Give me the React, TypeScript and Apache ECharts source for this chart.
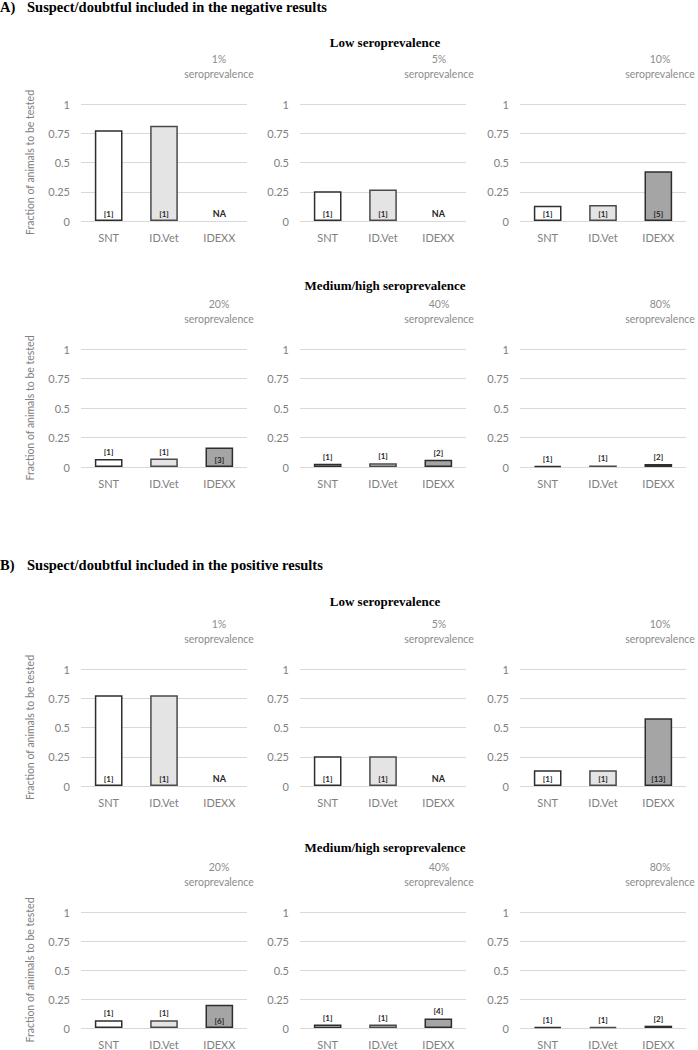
import React, { useEffect, useRef } from "react";
import * as echarts from "echarts";

// ---- data ----
const categories = ["SNT", "ID.Vet", "IDEXX"];
const prevalenceLabels = ["1%", "5%", "10%", "20%", "40%", "80%"];
const sectionLetters = ["A)", "B)"];
const sectionTitles = [
  "Suspect/doubtful included in the negative results",
  "Suspect/doubtful included in the positive results",
];
const groupTitles = ["Low seroprevalence", "Medium/high seroprevalence"];
const yAxisTitle = "Fraction of animals to be tested";
const yTicks = [0, 0.25, 0.5, 0.75, 1];

// A) suspect/doubtful counted as negative
const negSNT = [0.775, 0.255, 0.13, 0.068, 0.027, 0.01];
const negIDVet = [0.815, 0.27, 0.137, 0.072, 0.032, 0.013];
const negIDEXX = [null, null, 0.425, 0.165, 0.062, 0.026];
const negCountSNT = [1, 1, 1, 1, 1, 1];
const negCountIDVet = [1, 1, 1, 1, 1, 1];
const negCountIDEXX = [null, null, 5, 3, 2, 2];

// B) suspect/doubtful counted as positive
const posSNT = [0.775, 0.255, 0.135, 0.066, 0.03, 0.01];
const posIDVet = [0.775, 0.255, 0.135, 0.066, 0.03, 0.01];
const posIDEXX = [null, null, 0.58, 0.2, 0.082, 0.02];
const posCountSNT = [1, 1, 1, 1, 1, 1];
const posCountIDVet = [1, 1, 1, 1, 1, 1];
const posCountIDEXX = [null, null, 13, 6, 4, 2];

// ---- styles / layout ----
const barFill = ["#ffffff", "#e4e4e4", "#a5a5a5"];
const barBorder = ["#2e2e2e", "#4a4a4a", "#2e2e2e"];
const colLeft = [81, 300, 520];
const colTitleX = [219, 439, 660];
const gridW = 166;
const rowTop = [104, 349, 669, 912];
const rowH = [117, 118, 117, 118];
const groupTitleY = [42, 285, 601, 847];
const sectionTitleY = [7, 565];
const SANS = "Lato, 'Open Sans', sans-serif";
const SERIF = "'Liberation Serif', 'DejaVu Serif', serif";

export default function App() {
  const ref = useRef<HTMLDivElement>(null);

  useEffect(() => {
    if (!ref.current) return;
    const chart = echarts.init(ref.current, null, { renderer: "svg" });

    const sections = [
      { vals: [negSNT, negIDVet, negIDEXX], counts: [negCountSNT, negCountIDVet, negCountIDEXX] },
      { vals: [posSNT, posIDVet, posIDEXX], counts: [posCountSNT, posCountIDVet, posCountIDEXX] },
    ];

    const grids: any[] = [];
    const xAxes: any[] = [];
    const yAxes: any[] = [];
    const series: any[] = [];
    const graphics: any[] = [];

    sections.forEach((sec, s) => {
      graphics.push({
        type: "text",
        x: 0,
        y: sectionTitleY[s],
        style: { text: sectionLetters[s], font: `bold 14.5px ${SERIF}`, fill: "#000", verticalAlign: "middle" },
      });
      graphics.push({
        type: "text",
        x: 27,
        y: sectionTitleY[s],
        style: { text: sectionTitles[s], font: `bold 14.5px ${SERIF}`, fill: "#000", verticalAlign: "middle" },
      });
      for (let j = 0; j < 6; j++) {
        const r = s * 2 + Math.floor(j / 3);
        const c = j % 3;
        const idx = grids.length;
        if (c === 0) {
          graphics.push({
            type: "text",
            x: 385,
            y: groupTitleY[r],
            style: {
              text: groupTitles[Math.floor(j / 3)],
              font: `bold 13px ${SERIF}`,
              fill: "#000",
              align: "center",
              verticalAlign: "middle",
            },
          });
        }
        graphics.push({
          type: "text",
          x: colTitleX[c],
          y: rowTop[r] - 38,
          style: {
            text: `${prevalenceLabels[j]}\nseroprevalence`,
            font: `10.5px ${SANS}`,
            fill: "#8c8c8c",
            align: "center",
            verticalAlign: "middle",
            lineHeight: 15,
          },
        });
        grids.push({ left: colLeft[c], top: rowTop[r], width: gridW, height: rowH[r] });
        xAxes.push({
          type: "category",
          gridIndex: idx,
          data: categories,
          axisLine: { show: false },
          axisTick: { show: false },
          axisLabel: { color: "#808080", fontSize: 11, fontFamily: SANS, margin: 11 },
        });
        yAxes.push({
          type: "value",
          gridIndex: idx,
          min: yTicks[0],
          max: yTicks[yTicks.length - 1],
          interval: yTicks[1] - yTicks[0],
          axisLine: { show: false },
          axisTick: { show: false },
          axisLabel: { color: "#808080", fontSize: 11, fontFamily: SANS, margin: 11 },
          splitLine: { lineStyle: { color: "#d9d9d9", width: 1 } },
          name: c === 0 ? yAxisTitle : "",
          nameLocation: "middle",
          nameRotate: 90,
          nameGap: 46,
          nameTextStyle: { color: "#808080", fontSize: 10.5, fontFamily: SANS },
        });
        const data = categories.map((_, k) => {
          const v = sec.vals[k][j];
          const n = sec.counts[k][j];
          if (v == null) {
            return {
              value: 0,
              itemStyle: { color: "transparent", borderWidth: 0 },
              label: {
                show: true,
                formatter: "NA",
                position: "insideBottom",
                distance: 3,
                fontSize: 9,
              },
            };
          }
          const inside = v >= 0.1;
          return {
            value: v,
            itemStyle: { color: barFill[k], borderColor: barBorder[k], borderWidth: 1.5 },
            label: {
              show: true,
              formatter: n == null ? "NA" : `[${n}]`,
              position: inside ? "insideBottom" : "top",
              distance: 3,
            },
          };
        });
        series.push({
          type: "bar",
          xAxisIndex: idx,
          yAxisIndex: idx,
          barWidth: "50%",
          data,
          label: { color: "#262626", fontSize: 8, fontWeight: "bold", fontFamily: SANS },
        });
      }
    });

    chart.setOption({
      animation: false,
      backgroundColor: "#ffffff",
      grid: grids,
      xAxis: xAxes,
      yAxis: yAxes,
      series,
      graphic: graphics,
    });
    return () => chart.dispose();
  }, []);

  return (
    <div
      ref={ref}
      style={{ position: "absolute", left: 0, top: 0, width: 698, height: 1050, background: "#fff" }}
    />
  );
}
